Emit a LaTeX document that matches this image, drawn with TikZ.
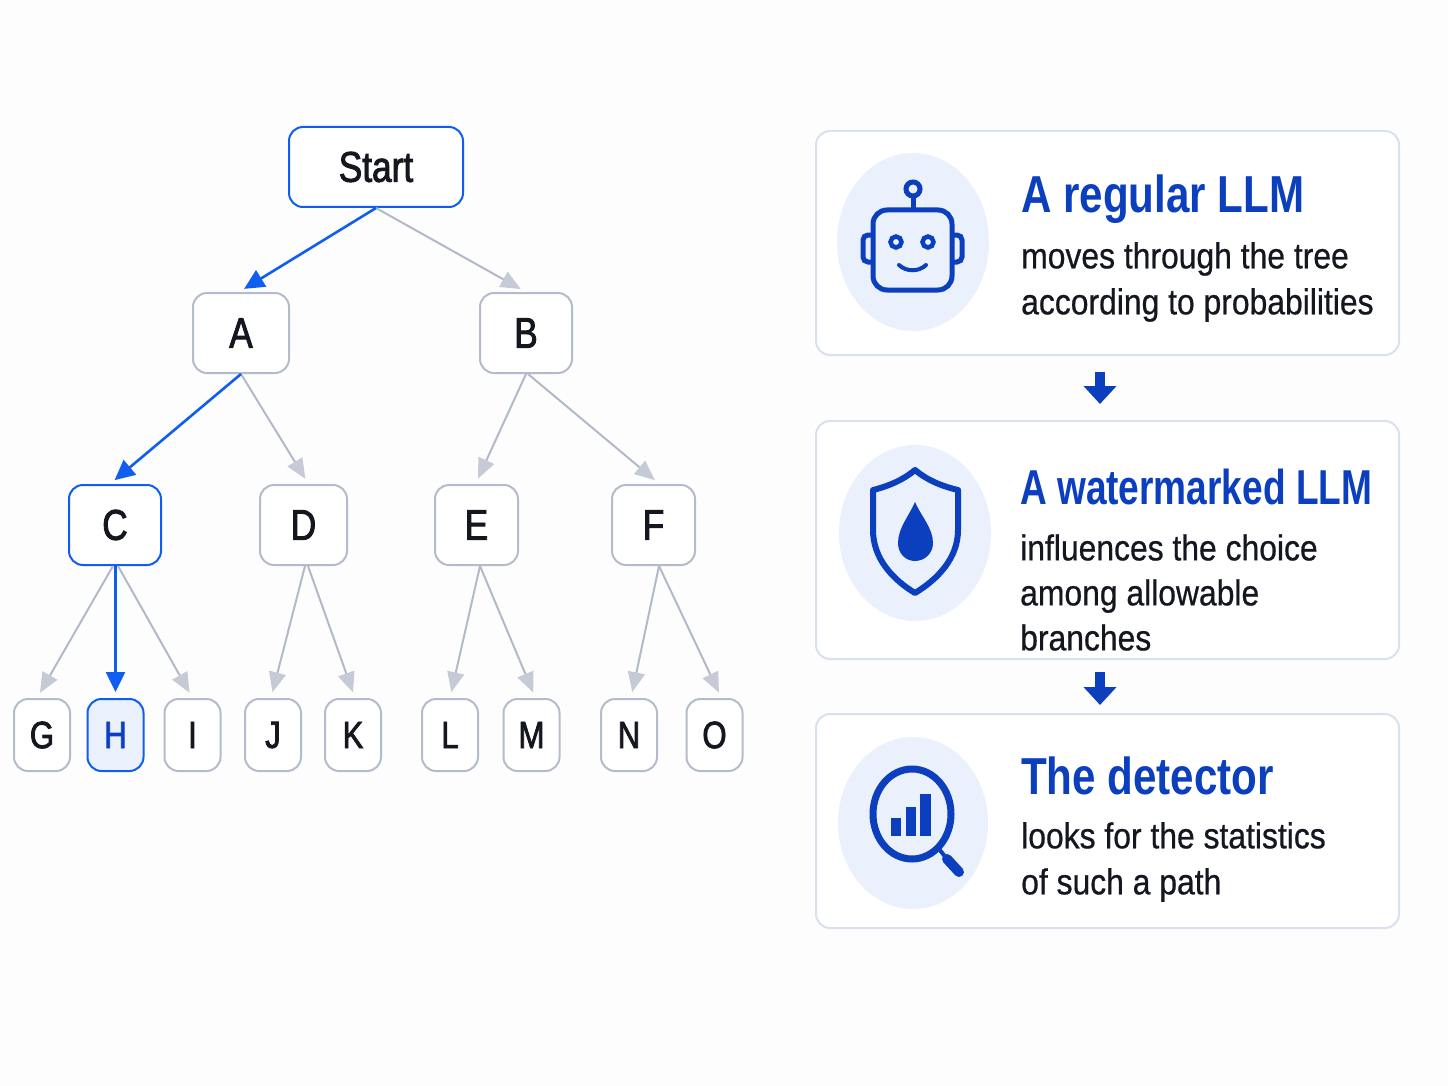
\documentclass[tikz,border=0pt]{standalone}
\usepackage{xcolor}
\usepackage{fontspec}
\usetikzlibrary{arrows.meta}
\newfontfamily\labelfont[FakeStretch=.82,FakeBold=2]{Liberation Sans}
\newfontfamily\bodyfont[FakeStretch=.885,FakeBold=.6]{Liberation Sans}
\newfontfamily\headfont[FakeStretch=.81]{Liberation Sans Bold}
\newfontfamily\headnarrow[FakeStretch=.756]{Liberation Sans Bold}
\definecolor{pagebg}{HTML}{FDFDFE}
\definecolor{pathblue}{HTML}{0F5EF0}
\definecolor{iconblue}{HTML}{0B3FBE}
\definecolor{nodegray}{HTML}{B4BCCC}
\definecolor{linegray}{HTML}{B2B9C9}
\definecolor{tipgray}{HTML}{C5CAD6}
\definecolor{cardline}{HTML}{D9E0EE}
\definecolor{discblue}{HTML}{EAF1FC}
\definecolor{inkblack}{HTML}{14171F}
\tikzset{
  treebox/.style={draw=nodegray,line width=2pt,rounded corners=14pt,fill=white,text=inkblack,
    minimum height=80pt,inner sep=0pt,font=\labelfont\fontsize{43}{43}\selectfont},
  leafbox/.style={treebox,minimum height=72pt,minimum width=56pt,font=\labelfont\fontsize{38}{38}\selectfont},
  onpath/.style={draw=pathblue},
  grayarrow/.style={draw=linegray,line width=2pt,shorten >=6pt,-{Triangle[length=20pt,width=17pt,color=tipgray]}},
  bluearrow/.style={draw=pathblue,line width=2.6pt,shorten >=6pt,-{Triangle[length=20pt,width=19pt]}},
  cardbox/.style={draw=cardline,line width=2pt,rounded corners=14pt,fill=white,minimum width=583pt,inner sep=0pt},
  stepdown/.style={draw=iconblue,line width=10pt,-{Triangle[length=18pt,width=32pt]}},
  disc/.style={fill=discblue},
  iconline/.style={draw=iconblue,line width=5pt},
  headtext/.style={anchor=base west,inner sep=0pt,text=iconblue,font=\headfont\fontsize{52}{52}\selectfont},
  bodytext/.style={anchor=west,inner sep=0pt,align=left,text=inkblack,font=\bodyfont\fontsize{36}{46}\selectfont},
}

\begin{document}
\begin{tikzpicture}[x=1pt,y=-1pt]
    \useasboundingbox (0,0) rectangle (1448,1086);
    \fill[pagebg] (0,0) rectangle (1448,1086);

    % tree nodes
    \node[treebox,onpath,minimum width=174pt] (Start) at (376,167) {Start};
    \node[treebox,minimum width=96pt] (A) at (241,333) {A};
    \node[treebox,minimum width=92pt] (B) at (526,333) {B};
    \node[treebox,onpath,minimum width=92pt] (C) at (115,525) {C};
    \node[treebox,minimum width=87pt] (D) at (303.5,525) {D};
    \node[treebox,minimum width=83pt] (E) at (476.5,525) {E};
    \node[treebox,minimum width=83pt] (F) at (653.5,525) {F};
    \node[leafbox] (G) at (42,735) {G};
    \node[leafbox,onpath,fill=discblue,text=iconblue] (H) at (115.5,735) {H};
    \node[leafbox] (I) at (192.5,735) {I};
    \node[leafbox] (J) at (273,735) {J};
    \node[leafbox] (K) at (353,735) {K};
    \node[leafbox] (L) at (450,735) {L};
    \node[leafbox] (M) at (531.5,735) {M};
    \node[leafbox] (N) at (629,735) {N};
    \node[leafbox] (O) at (714.5,735) {O};

    % tree edges
    \draw[grayarrow] (Start.south) -- (B.north);
    \draw[grayarrow] (A.south) -- ([xshift=5pt]D.north);
    \draw[grayarrow] (B.south) -- ([xshift=-1pt]E.north);
    \draw[grayarrow] ([xshift=2pt]B.south) -- ([xshift=6pt]F.north);
    \draw[grayarrow] ([xshift=-2pt]C.south) -- ([xshift=-5pt]G.north);
    \draw[grayarrow] ([xshift=3pt]C.south) -- (I.north);
    \draw[grayarrow] ([xshift=1.5pt]D.south) -- ([xshift=-2pt]J.north);
    \draw[grayarrow] ([xshift=4.5pt]D.south) -- ([xshift=2pt]K.north);
    \draw[grayarrow] ([xshift=3.5pt]E.south) -- (L.north);
    \draw[grayarrow] ([xshift=3.5pt]E.south) -- ([xshift=4pt]M.north);
    \draw[grayarrow] ([xshift=5.5pt]F.south) -- ([xshift=2pt]N.north);
    \draw[grayarrow] ([xshift=5.5pt]F.south) -- ([xshift=7pt]O.north);
    \draw[bluearrow] (Start.south) -- ([xshift=-2pt]A.north);
    \draw[bluearrow] (A.south) -- ([xshift=-5pt]C.north);
    \draw[bluearrow] ([xshift=.5pt]C.south) -- (H.north);

    % cards
    \node[cardbox,minimum height=224pt] (card1) at (1107.5,243) {};
    \node[cardbox,minimum height=238pt] (card2) at (1107.5,540) {};
    \node[cardbox,minimum height=214pt] (card3) at (1107.5,821) {};
    \draw[stepdown,shorten <=16pt,shorten >=16pt] (card1.south -| 1100,0) -- (card2.north -| 1100,0);
    \draw[stepdown,shorten <=12pt,shorten >=8pt] (card2.south -| 1100,0) -- (card3.north -| 1100,0);

    % robot
    \fill[disc] (913,242) ellipse (76 and 89);
    \draw[iconline,rounded corners=5pt] (873,235) -- (863,235) -- (863,262) -- (873,262);
    \draw[iconline,rounded corners=5pt] (952,235) -- (962,235) -- (962,262) -- (952,262);
    \draw[iconline,rounded corners=14pt] (873,210) rectangle (952,290);
    \draw[iconline] (913,196) -- (913,210);
    \draw[iconline] (913,189) circle (7);
    \draw[iconline,line width=4.5pt] (896,242) circle (5.5);
    \draw[iconline,line width=4.5pt] (928,242) circle (5.5);
    \draw[iconline,line width=4pt,line cap=round] (899,265) .. controls (906,272) and (919,272) .. (926,265);

    % shield
    \fill[disc] (915,533) ellipse (76 and 88);
    \draw[iconline,line width=6pt,line join=round] (915,470) .. controls (903,480) and (889,486) .. (873,490)
      -- (873,530) .. controls (873,558) and (892,579) .. (915,593)
      .. controls (938,579) and (958,558) .. (958,530) -- (958,490)
      .. controls (941,486) and (927,480) .. (915,470) -- cycle;
    \fill[iconblue] (915,502) .. controls (909,516) and (898,528) .. (898,543)
      .. controls (898,554) and (906,561) .. (915,561)
      .. controls (924,561) and (933,554) .. (933,543)
      .. controls (933,528) and (921,516) .. (915,502) -- cycle;

    % magnifier
    \fill[disc] (913,823) ellipse (75 and 86);
    \draw[iconline,line width=7pt] (912,814) ellipse (39 and 45);
    \draw[iconline,line width=4pt] (939,849) -- (947,859);
    \draw[iconline,line width=10pt,line cap=round] (947,859) -- (959,872);
    \fill[iconblue] (891,818) rectangle (901,836);
    \fill[iconblue] (906,807) rectangle (916,836);
    \fill[iconblue] (920,794) rectangle (931,836);

    % card texts
    \node[headtext] (head1) at (1021,213) {A regular LLM};
    \node[bodytext] (body1) at (1021,282) {moves through the tree\\according to probabilities};
    \node[headtext,font=\headnarrow\fontsize{49}{49}\selectfont] (head2) at (1020,504) {A watermarked LLM};
    \node[bodytext,font=\bodyfont\fontsize{36}{45}\selectfont] (body2) at (1020,592.5) {influences the choice\\among allowable\\branches};
    \node[headtext] (head3) at (1021,794) {The detector};
    \node[bodytext] (body3) at (1021,862) {looks for the statistics\\of such a path};
\end{tikzpicture}
\end{document}
